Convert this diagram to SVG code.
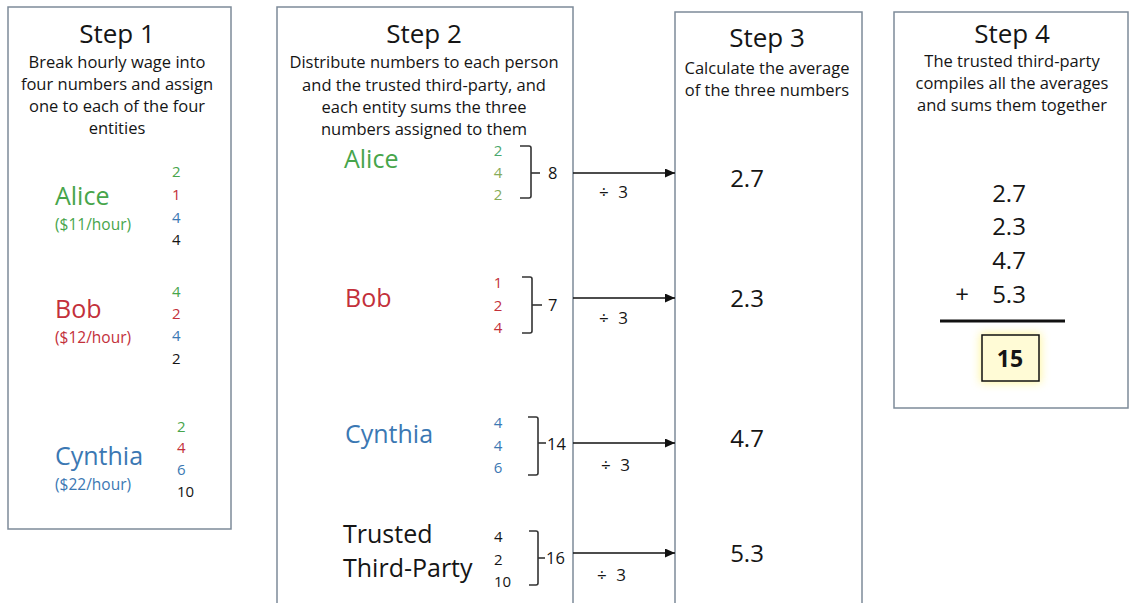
<svg xmlns="http://www.w3.org/2000/svg" width="1130" height="603" viewBox="0 0 1130 603">
<defs>
<style>
text{font-family:"Open Sans",Lato,sans-serif;fill:#151515}
.panel{fill:#fff;stroke:#7d8b99;stroke-width:1.5}
.title{font-size:26px;text-anchor:middle}
.desc{font-size:16.5px;text-anchor:middle}
.name{font-size:25px}
.rate{font-size:15.5px}
.num{font-size:15px}
.sum{font-size:16.5px}
.mid{text-anchor:middle}
.g{fill:#47a54b}
.g2{fill:#86ab58}
.gt{fill:#4aa86e}
.r{fill:#c3303a}
.b{fill:#3b78b3}
.br{fill:none;stroke:#333;stroke-width:1.6}
.val{font-size:24px;text-anchor:middle}
.div{font-size:17px;word-spacing:5px}
.conn line{stroke:#111;stroke-width:1.5}
</style>
<marker id="ah" viewBox="0 0 10 10" refX="10" refY="5" markerWidth="10" markerHeight="9" markerUnits="userSpaceOnUse" orient="auto" preserveAspectRatio="none">
<path d="M0,0 L10,5 L0,10 z" fill="#111"/>
</marker>
<filter id="glow" x="-50%" y="-50%" width="200%" height="200%">
<feGaussianBlur stdDeviation="5"/>
</filter>
</defs>
<rect width="1130" height="603" fill="#fff"/>

<g id="step1">
<rect class="panel" x="8" y="7" width="223" height="522"/>
<text class="title" x="117" y="43">Step 1</text>
<text class="desc" x="117" y="68">Break hourly wage into</text>
<text class="desc" x="117" y="90">four numbers and assign</text>
<text class="desc" x="117" y="112">one to each of the four</text>
<text class="desc" x="117" y="134">entities</text>
<g id="s1-alice">
<text class="name g" x="55" y="205">Alice</text>
<text class="rate g" x="55" y="230">($11/hour)</text>
<text class="num g" x="172" y="177">2</text>
<text class="num r" x="172" y="200">1</text>
<text class="num b" x="172" y="223">4</text>
<text class="num" x="172" y="245">4</text>
</g>
<g id="s1-bob">
<text class="name r" x="55" y="318">Bob</text>
<text class="rate r" x="55" y="343">($12/hour)</text>
<text class="num g" x="172" y="297">4</text>
<text class="num r" x="172" y="319">2</text>
<text class="num b" x="172" y="341">4</text>
<text class="num" x="172" y="364">2</text>
</g>
<g id="s1-cynthia">
<text class="name b" x="55" y="465">Cynthia</text>
<text class="rate b" x="55" y="490">($22/hour)</text>
<text class="num g" x="177" y="432">2</text>
<text class="num r" x="177" y="453">4</text>
<text class="num b" x="177" y="475">6</text>
<text class="num" x="177" y="497">10</text>
</g>
</g>

<g id="step2">
<rect class="panel" x="277" y="7" width="296" height="600"/>
<text class="title" x="424" y="43">Step 2</text>
<text class="desc" x="424" y="68">Distribute numbers to each person</text>
<text class="desc" x="424" y="91">and the trusted third-party, and</text>
<text class="desc" x="424" y="113">each entity sums the three</text>
<text class="desc" x="424" y="135">numbers assigned to them</text>
<g id="s2-alice">
<text class="name g" x="344" y="168">Alice</text>
<text class="num gt mid" x="498" y="156">2</text>
<text class="num g2 mid" x="498" y="178">4</text>
<text class="num g2 mid" x="498" y="200">2</text>
<path class="br" d="M520,146 H529 Q531,146 531,148 V196 Q531,198 529,198 H520"/>
<path class="br" d="M531,173 H540" stroke-width="2.2"/>
<text class="sum" x="548" y="179">8</text>
</g>
<g id="s2-bob">
<text class="name r" x="345" y="307">Bob</text>
<text class="num r mid" x="498" y="288">1</text>
<text class="num r mid" x="498" y="311">2</text>
<text class="num r mid" x="498" y="333">4</text>
<path class="br" d="M522,277 H530 Q532,277 532,279 V331 Q532,333 530,333 H522"/>
<path class="br" d="M532,305 H542" stroke-width="2"/>
<text class="sum" x="548" y="311">7</text>
</g>
<g id="s2-cynthia">
<text class="name b" x="345" y="443">Cynthia</text>
<text class="num b mid" x="498" y="428">4</text>
<text class="num b mid" x="498" y="451">4</text>
<text class="num b mid" x="498" y="473">6</text>
<path class="br" d="M528,417 H536 Q538,417 538,419 V473 Q538,475 536,475 H528"/>
<path class="br" d="M538,443 H546" stroke-width="2"/>
<text class="sum" x="547" y="450">14</text>
</g>
<g id="s2-ttp">
<text class="name" x="343" y="543">Trusted</text>
<text class="name" x="343" y="577">Third-Party</text>
<text class="num" x="494" y="542">4</text>
<text class="num" x="494" y="565">2</text>
<text class="num" x="494" y="587">10</text>
<path class="br" d="M529,531 H536 Q538,531 538,533 V583 Q538,585 536,585 H529"/>
<path class="br" d="M538,558 H545" stroke-width="2"/>
<text class="sum" x="546" y="564">16</text>
</g>
</g>

<g id="step3">
<rect class="panel" x="675" y="12" width="187" height="600"/>
<text class="title" x="767" y="47">Step 3</text>
<text class="desc" x="767" y="74">Calculate the average</text>
<text class="desc" x="767" y="96">of the three numbers</text>
<text class="val" x="747" y="187">2.7</text>
<text class="val" x="747" y="307">2.3</text>
<text class="val" x="747" y="447">4.7</text>
<text class="val" x="747" y="562">5.3</text>
</g>

<g id="step4">
<rect class="panel" x="894" y="12" width="234" height="396"/>
<text class="title" x="1012" y="43">Step 4</text>
<text class="desc" x="1012" y="67">The trusted third-party</text>
<text class="desc" x="1012" y="89">compiles all the averages</text>
<text class="desc" x="1012" y="111">and sums them together</text>
<text class="val" x="1009" y="202">2.7</text>
<text class="val" x="1009" y="235">2.3</text>
<text class="val" x="1009" y="269">4.7</text>
<text class="val" x="1009" y="303">5.3</text>
<text class="val" x="962" y="303">+</text>
<line x1="940" y1="321" x2="1065" y2="321" stroke="#111" stroke-width="3"/>
<rect x="980" y="333" width="61" height="50" fill="#fff27a" opacity="0.7" filter="url(#glow)"/>
<rect x="982" y="335" width="57" height="46" fill="#fffbd6" stroke="#111" stroke-width="1.5"/>
<text class="val" x="1010" y="367" style="font-weight:bold;font-size:23px">15</text>
</g>

<g id="connectors" class="conn">
<line x1="573" y1="173" x2="675" y2="173" marker-end="url(#ah)"/>
<line x1="573" y1="298" x2="675" y2="298" marker-end="url(#ah)"/>
<line x1="573" y1="443" x2="675" y2="443" marker-end="url(#ah)"/>
<line x1="573" y1="553" x2="675" y2="553" marker-end="url(#ah)"/>
<text class="div" x="599" y="198">÷ 3</text>
<text class="div" x="599" y="324">÷ 3</text>
<text class="div" x="601" y="471">÷ 3</text>
<text class="div" x="597" y="581">÷ 3</text>
</g>
</svg>
